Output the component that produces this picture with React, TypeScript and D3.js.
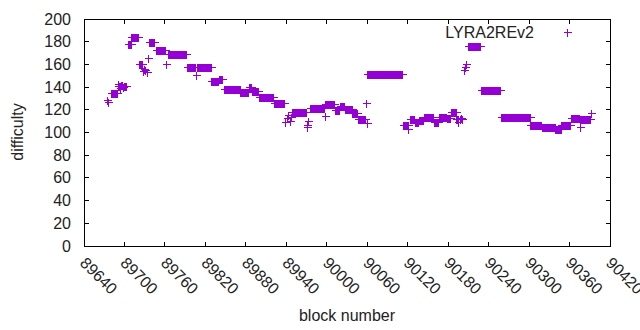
import React from "react";
import * as d3 from "d3";

// Run-length encoded data: block range [start, end] holding one difficulty value
const runStart = [
  89674, 89675, 89680, 89690, 89691, 89694, 89695, 89698, 89699, 89705, 89710, 89721,
  89727, 89729, 89731, 89733, 89735, 89737, 89747, 89762, 89765, 89793, 89806, 89808,
  89829, 89840, 89848, 89872, 89885, 89889, 89899, 89922, 89938, 89941, 89943, 89945,
  89947, 89948, 89970, 89971, 89972, 89975, 89997, 89998, 90012, 90019, 90027, 90038,
  90046, 90058, 90059, 90060, 90113, 90121, 90124, 90131, 90137, 90144, 90159, 90166,
  90178, 90184, 90192, 90195, 90197, 90199, 90201, 90204, 90205, 90206, 90209, 90228,
  90258, 90302, 90319, 90339, 90348, 90362, 90375, 90376, 90392,
];
const runEnd = [
  89674, 89675, 89689, 89690, 89693, 89694, 89697, 89698, 89703, 89709, 89720, 89726,
  89727, 89729, 89731, 89733, 89735, 89744, 89760, 89762, 89791, 89805, 89806, 89828,
  89838, 89845, 89871, 89883, 89887, 89898, 89920, 89937, 89938, 89941, 89943, 89945,
  89947, 89969, 89970, 89971, 89972, 89996, 89997, 90011, 90018, 90026, 90037, 90045,
  90057, 90058, 90059, 90112, 90120, 90121, 90130, 90136, 90143, 90158, 90165, 90177,
  90183, 90191, 90194, 90195, 90197, 90199, 90201, 90204, 90205, 90206, 90227, 90257,
  90301, 90318, 90338, 90347, 90361, 90374, 90375, 90390, 90392,
];
const runDifficulty = [
  129, 127, 135, 143, 141, 139, 142, 140, 141, 178, 184, 160,
  154, 156, 155, 153, 166, 180, 173, 160, 169, 157.5, 151, 157.5,
  145.5, 147, 138, 136, 140.5, 137, 131.5, 126, 109, 113, 115, 110,
  114, 118, 105, 107, 110, 121.5, 114.5, 125, 120, 123.5, 121, 117,
  112, 126, 108, 151.5, 107, 103, 112, 109, 111, 114, 109, 114,
  113, 118, 112, 109, 112, 113, 112, 155, 158, 160, 176, 137.5,
  113.5, 107, 105, 103.5, 107, 113, 104.5, 112, 117,
];

const xTicks = [89640, 89700, 89760, 89820, 89880, 89940, 90000, 90060, 90120, 90180, 90240, 90300, 90360, 90420];
const yTicks = [0, 20, 40, 60, 80, 100, 120, 140, 160, 180, 200];
const seriesName = "LYRA2REv2";

const W = 640, H = 330;
const L = 84, R = 610, T = 19, B = 246;
const COLOR = "#9400d3";
const FONT = "'Liberation Sans', Arial, sans-serif";
const TICK = 4.5;

type Pt = { block: number; difficulty: number };
const points: Pt[] = [];
runStart.forEach((s, i) => {
  for (let b = s; b <= runEnd[i]; b++) points.push({ block: b, difficulty: runDifficulty[i] });
});

export default function App() {
  const x = d3.scaleLinear().domain([89640, 90420]).range([L, R]);
  const y = d3.scaleLinear().domain([0, 200]).range([B, T]);
  const plus = "M-4,0H4M0,-4V4";
  const px = (v: number) => Math.round(v) + 0.5;
  return (
    <svg width={W} height={H} style={{ position: "absolute", left: 0, top: 0, background: "#fff" }}>
      <rect x={0} y={0} width={W} height={H} fill="#fff" />
      <g stroke="#000" strokeWidth={1} shapeRendering="crispEdges">
        {yTicks.map((t) => (
          <g key={"y" + t}>
            <line x1={L} x2={L + TICK} y1={y(t)} y2={y(t)} />
            <line x1={R} x2={R - TICK} y1={y(t)} y2={y(t)} />
          </g>
        ))}
        {xTicks.map((t) => (
          <g key={"x" + t}>
            <line x1={x(t)} x2={x(t)} y1={B} y2={B - TICK} />
            <line x1={x(t)} x2={x(t)} y1={T} y2={T + TICK} />
          </g>
        ))}
      </g>
      <g fontFamily={FONT} fontSize={16} fill="#222">
        {yTicks.map((t) => (
          <text key={"yl" + t} x={L - 13} y={y(t)} textAnchor="end" dominantBaseline="central">
            {t}
          </text>
        ))}
        {xTicks.map((t) => (
          <text key={"xl" + t} transform={`translate(${x(t) - 1},${B + 14}) rotate(45)`} textAnchor="start" dominantBaseline="central">
            {t}
          </text>
        ))}
        <text transform={`translate(23,132) rotate(-90)`} textAnchor="middle">difficulty</text>
        <text x={347} y={321} textAnchor="middle">block number</text>
        <text x={534} y={38} textAnchor="end">{seriesName}</text>
      </g>
      <g stroke={COLOR} strokeWidth={1} fill="none" shapeRendering="crispEdges">
        {points.map((p, i) => (
          <path key={i} d={plus} transform={`translate(${px(x(p.block))},${px(y(p.difficulty))})`} />
        ))}
        <path d={plus} transform="translate(567.5,32.5)" />
      </g>
      <rect x={L} y={T} width={R - L} height={B - T} fill="none" stroke="#000" strokeWidth={1} shapeRendering="crispEdges" />
    </svg>
  );
}
